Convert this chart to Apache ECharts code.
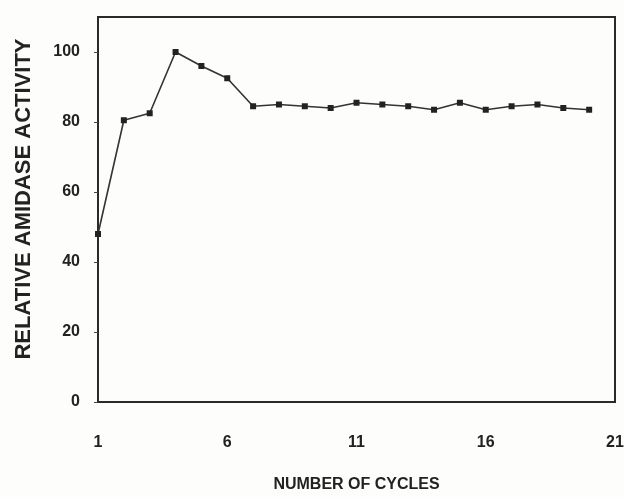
<!DOCTYPE html>
<html>
<head>
<meta charset="utf-8">
<script src="https://cdn.jsdelivr.net/npm/echarts@6/dist/echarts.min.js"></script>
<style>html,body{margin:0;padding:0;background:#fff;}#c{width:624px;height:497px;}</style>
</head>
<body>
<div id="c"></div>
<script>
var cycles = [1,2,3,4,5,6,7,8,9,10,11,12,13,14,15,16,17,18,19,20];
var activity = [48,80.5,82.5,100,96,92.5,84.5,85,84.5,84,85.5,85,84.5,83.5,85.5,83.5,84.5,85,84,83.5];
var xTicks = [1,6,11,16,21];
var yTicks = [0,20,40,60,80,100];

var font = 'Liberation Sans, Arial, sans-serif';
var chart = echarts.init(document.getElementById('c'));
chart.setOption({
  animation: false,
  backgroundColor: '#fdfdfb',
  grid: { left: 98, right: 9, top: 17, bottom: 95, containLabel: false, outerBoundsMode: 'none', show: true, borderColor: '#2a2a2a', borderWidth: 2, backgroundColor: 'transparent' },
  xAxis: {
    type: 'value', min: 1, max: 21,
    name: 'NUMBER OF CYCLES', nameLocation: 'middle', nameGap: 75,
    nameTextStyle: { fontFamily: font, fontWeight: 'bold', fontSize: 16, color: '#222' },
    axisLine: { show: true, lineStyle: { color: '#2a2a2a', width: 2 } },
    axisTick: { show: false },
    splitLine: { show: false },
    axisLabel: { customValues: xTicks, margin: 33, fontFamily: font, fontWeight: 'bold', fontSize: 16, color: '#222' }
  },
  yAxis: {
    type: 'value', min: 0, max: 110,
    name: 'RELATIVE AMIDASE ACTIVITY', nameLocation: 'middle', nameGap: 63, nameRotate: 90,
    nameTextStyle: { fontFamily: font, fontWeight: 'bold', fontSize: 22, color: '#222', padding: [0, 0, 0, 21] },
    axisLine: { show: true, lineStyle: { color: '#2a2a2a', width: 2 } },
    axisTick: { show: true, customValues: yTicks, length: 4, lineStyle: { color: '#444', width: 1 } },
    splitLine: { show: false },
    axisLabel: { customValues: yTicks, margin: 18, fontFamily: font, fontWeight: 'bold', fontSize: 16, color: '#222' }
  },
  series: [{
    type: 'line',
    data: cycles.map(function (c, i) { return [c, activity[i]]; }),
    symbol: 'rect', symbolSize: 6,
    lineStyle: { color: '#333', width: 1.6 },
    itemStyle: { color: '#222' }
  }]
});
</script>
</body>
</html>
